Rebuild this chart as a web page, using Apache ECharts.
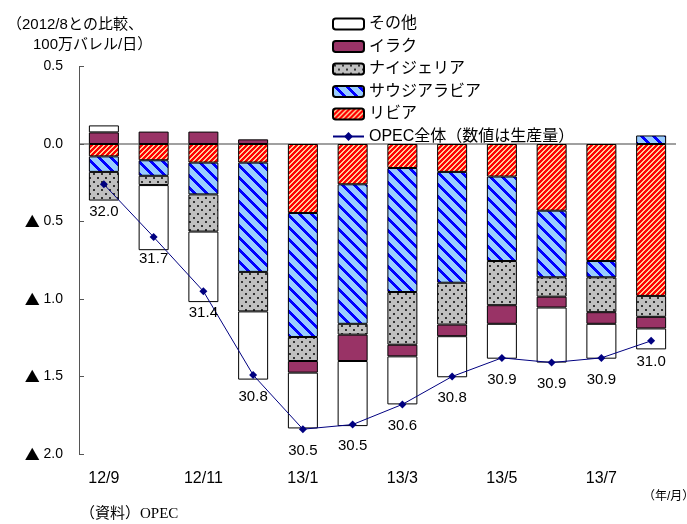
<html>
<head>
<meta charset="utf-8">
<script src="https://cdn.jsdelivr.net/npm/echarts@6/dist/echarts.min.js"></script>
</head>
<body style="margin:0;background:#fff">
<div id="main" style="width:687px;height:524px"></div>
<script>
// 2012/8との比較（100万バレル/日）
var months = ['12/9', '12/10', '12/11', '12/12', '13/1', '13/2', '13/3', '13/4', '13/5', '13/6', '13/7', '13/8'];
var libya   = [-0.08, -0.105, -0.12, -0.12, -0.445, -0.26, -0.155, -0.18, -0.21, -0.43, -0.755, -0.98];
var saudi   = [-0.10, -0.10, -0.205, -0.705, -0.80, -0.90, -0.80, -0.715, -0.545, -0.43, -0.105, 0.055];
var nigeria = [-0.185, -0.06, -0.24, -0.255, -0.155, -0.07, -0.34, -0.27, -0.285, -0.125, -0.225, -0.135];
var iraq    = [0.075, 0.08, 0.08, 0.03, -0.075, -0.17, -0.075, -0.075, -0.12, -0.07, -0.075, -0.075];
var other   = [0.045, -0.42, -0.455, -0.44, -0.36, -0.42, -0.31, -0.265, -0.225, -0.355, -0.225, -0.135];
var opecTotal = [-0.26, -0.60, -0.95, -1.49, -1.84, -1.81, -1.68, -1.50, -1.38, -1.41, -1.38, -1.27];
var production = ['32.0', '31.7', '31.4', '30.8', '30.5', '30.5', '30.6', '30.8', '30.9', '30.9', '30.9', '31.0'];

var FONT = "'Liberation Sans', 'Noto Sans CJK JP', sans-serif";

function pattern(w, h, pick) {
    var c = document.createElement('canvas');
    c.width = w; c.height = h;
    var ctx = c.getContext('2d');
    for (var y = 0; y < h; y++) {
        for (var x = 0; x < w; x++) {
            ctx.fillStyle = pick(x, y);
            ctx.fillRect(x, y, 1, 1);
        }
    }
    return c;
}

var libyaFill = pattern(5, 5, function (x, y) {
    return (x + y) % 5 < 3 ? '#ff0000' : '#ffcc99';
});
var saudiFill = pattern(12, 12, function (x, y) {
    return ((x - y) % 12 + 12) % 12 < 4 ? '#0000ff' : '#99ccff';
});
var nigeriaFill = pattern(8, 8, function (x, y) {
    var dot = ((x == 1 || x == 2) && (y == 1 || y == 2)) || ((x == 5 || x == 6) && (y == 5 || y == 6));
    return dot ? '#333333' : '#c0c0c0';
});

function barSeries(name, data, fill) {
    return {
        name: name,
        type: 'bar',
        stack: 'oil',
        barWidth: 30,
        data: data,
        itemStyle: {
            color: fill,
            borderColor: '#000',
            borderWidth: 1
        }
    };
}

// first label sits below its bar
var lineData = opecTotal.map(function (v, i) {
    return i == 0 ? { value: v, label: { distance: 16 } } : v;
});

var myChart = echarts.init(document.getElementById('main'));

var clear = 'rgba(0,0,0,0)';

option = {
    animation: false,
    textStyle: { fontFamily: FONT },
    grid: { left: 79, right: 11, top: 66.5, bottom: 70 },
    legend: {
        orient: 'vertical',
        left: 327,
        top: 11,
        itemWidth: 31,
        itemHeight: 11,
        itemGap: 6.5,
        textStyle: { fontSize: 16, color: '#000', fontFamily: FONT },
        data: ['その他', 'イラク', 'ナイジェリア', 'サウジアラビア', 'リビア', 'OPEC全体（数値は生産量）']
    },
    xAxis: {
        type: 'category',
        data: months,
        axisLine: { show: false },
        axisTick: { show: false },
        axisLabel: { interval: 1, fontSize: 16, color: '#000', margin: 17, fontFamily: FONT }
    },
    yAxis: {
        type: 'value',
        min: -2,
        max: 0.5,
        interval: 0.5,
        axisLine: { show: true, lineStyle: { color: '#555', width: 1 } },
        axisTick: { show: true, inside: true, length: 5, lineStyle: { color: '#555' } },
        axisLabel: {
            fontSize: 14,
            color: '#000',
            margin: 16,
            fontFamily: FONT,
            formatter: function (v) {
                if (v > 0) return v.toFixed(1);
                if (v == 0) return '0.0';
                return '{t|▲} ' + Math.abs(v).toFixed(1);
            },
            rich: {
                t: { fontSize: 15, fontFamily: "'Noto Sans CJK JP', sans-serif", color: '#000' }
            }
        },
        splitLine: {
            show: true,
            lineStyle: { color: [clear, clear, clear, clear, '#808080', clear], width: 1.5 }
        }
    },
    graphic: [
        { type: 'text', left: 7, top: 17, style: { text: '（2012/8との比較、', fontSize: 15, fill: '#000', fontFamily: FONT } },
        { type: 'text', left: 33, top: 37, style: { text: '100万バレル/日）', fontSize: 15, fill: '#000', fontFamily: FONT } },
        { type: 'text', left: 643, top: 491, style: { text: '（年/月）', fontSize: 12, fill: '#000', fontFamily: FONT } },
        { type: 'text', left: 80, top: 507, style: { text: '（資料）OPEC', fontSize: 15, fill: '#000', fontFamily: "'Liberation Serif', 'Noto Sans CJK JP', serif" } }
    ],
    series: [
        barSeries('リビア', libya, { image: libyaFill, repeat: 'repeat' }),
        barSeries('サウジアラビア', saudi, { image: saudiFill, repeat: 'repeat' }),
        barSeries('ナイジェリア', nigeria, { image: nigeriaFill, repeat: 'repeat' }),
        barSeries('イラク', iraq, '#993366'),
        barSeries('その他', other, '#ffffff'),
        {
            name: 'OPEC全体（数値は生産量）',
            type: 'line',
            data: lineData,
            symbol: 'diamond',
            symbolSize: 8,
            z: 5,
            itemStyle: { color: '#000080' },
            lineStyle: { color: '#000080', width: 1 },
            label: {
                show: true,
                position: 'bottom',
                distance: 10,
                fontSize: 15,
                color: '#000',
                fontFamily: FONT,
                formatter: function (p) { return production[p.dataIndex]; }
            }
        }
    ]
};

myChart.setOption(option);
</script>
</body>
</html>
